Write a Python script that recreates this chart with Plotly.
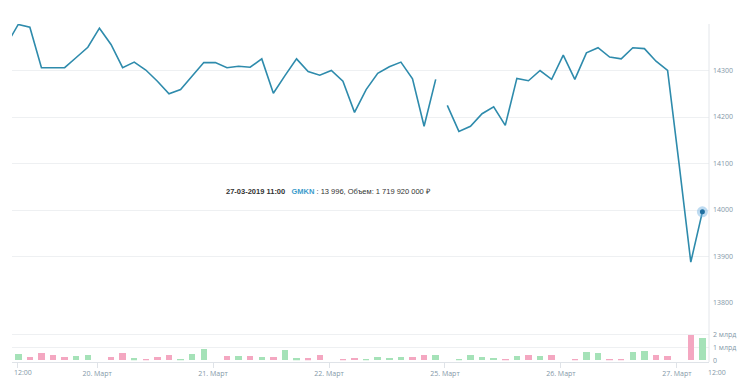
import plotly.graph_objects as go

# ---- data ----
# hourly index positions (-1 .. 59), 19–27 March 2019, GMKN
idx = list(range(-1, 60))
price = [14356, 14399, 14393, 14306, 14306, 14306, 14328, 14350, 14391, 14356,
         14306, 14318, 14301, 14277, 14250, 14259, 14288, 14317, 14317, 14306,
         14309, 14307, 14325, 14251, 14289, 14325, 14298, 14290, 14300, 14277,
         14210, 14259, 14294, 14308, 14318, 14282, 14180, 14281, 14225, 14169,
         14180, 14207, 14222, 14182, 14283, 14278, 14300, 14281, 14333, 14281,
         14338, 14349, 14329, 14325, 14349, 14347, 14320, 14300, 14097, 13888,
         13996]
gap_before = 37  # weekend break: line not joined between index 36 and 37

vol_idx = list(range(0, 60))
volume_bn = [0.48, 0.28, 0.54, 0.38, 0.28, 0.33, 0.41, None, 0.28, 0.56,
             0.15, 0.10, 0.26, 0.38, 0.10, 0.46, 0.90, None, 0.36, 0.30,
             0.30, 0.28, 0.23, 0.82, 0.15, 0.15, 0.38, None, 0.08, 0.18,
             0.12, 0.23, 0.20, 0.23, 0.28, 0.38, 0.38, None, 0.05, 0.38,
             0.23, 0.18, 0.08, 0.33, 0.41, 0.30, 0.38, None, 0.05, 0.67,
             0.56, 0.13, 0.10, 0.64, 0.74, 0.38, 0.30, None, 1.97, 1.72]
direction = list("udddduu-dd" "uddduuu-du" "duduudd-dd" "uuuuddu-uu"
                 "uududud-du" "udduudd-du")

day_ticks = [6.8, 16.8, 26.8, 36.8, 46.8, 56.8]
day_labels = ["20. Март", "21. Март", "22. Март", "25. Март", "26. Март", "27. Март"]
price_ticks = [13800, 13900, 14000, 14100, 14200, 14300, 14400]
vol_ticks = [0, 1e9, 2e9, 3e9]
vol_labels = ["0", "1 млрд", "2 млрд", ""]
hover_idx, hover_price = 59, 13996
tooltip = ("<b>27-03-2019 11:00</b>   <span style='color:#3d9ccc'><b>GMKN</b></span>"
           " : 13 996, Объем: 1 719 920 000 ₽")

# ---- geometry ----
W, H = 742, 379
L, R, T, B = 12, 33, 24, 17
LINE = "#2e8bac"

fig = go.Figure()

k = idx.index(gap_before)
fig.add_trace(go.Scatter(x=idx[:k], y=price[:k], mode="lines",
                         line=dict(color=LINE, width=1.6), yaxis="y", hoverinfo="skip"))
fig.add_trace(go.Scatter(x=idx[k:], y=price[k:], mode="lines",
                         line=dict(color=LINE, width=1.6), yaxis="y", hoverinfo="skip"))
fig.add_trace(go.Scatter(x=[hover_idx], y=[hover_price], mode="markers",
                         marker=dict(size=11, color="rgba(110,175,225,0.45)"), yaxis="y"))
fig.add_trace(go.Scatter(x=[hover_idx], y=[hover_price], mode="markers",
                         marker=dict(size=5, color="#1f6fa0"), yaxis="y"))

colors = ["#a5e2b8" if d == "u" else "#f4a7c1" for d in direction]
fig.add_trace(go.Bar(x=vol_idx, y=[v * 1e9 if v is not None else None for v in volume_bn],
                     marker=dict(color=colors, line=dict(width=0)), width=0.56,
                     yaxis="y2", hoverinfo="skip"))

plot_h = H - T - B
p_bottom = (H - B - 303) / plot_h
v_top = (H - B - 322) / plot_h

tickfont = dict(family="Open Sans", size=7, color="#8498a8")
fig.update_layout(
    width=W, height=H, margin=dict(l=L, r=R, t=T, b=B, autoexpand=False),
    paper_bgcolor="white", plot_bgcolor="white", showlegend=False,
    bargap=0,
    xaxis=dict(range=[-0.54, 59.57], tickvals=[-0.1] + day_ticks, ticktext=[""] + day_labels,
               anchor="free", position=0, automargin=False,
               showgrid=False, zeroline=False, showline=True, linecolor="#dfe3e8", linewidth=1,
               ticks="outside", ticklen=5, tickcolor="#dfe3e8", tickfont=tickfont),
    yaxis=dict(domain=[p_bottom, 1], range=[13800, 14400], side="right", automargin=False,
               tickvals=price_ticks, ticktext=[str(v) if v < 14400 else "" for v in price_ticks],
               showgrid=True, gridcolor="#eef0f2", gridwidth=1, zeroline=False,
               ticks="", ticklabelstandoff=3, tickfont=tickfont),
    yaxis2=dict(domain=[0.005, v_top], range=[0, 3e9], side="right", automargin=False,
                tickvals=vol_ticks, ticktext=vol_labels,
                showgrid=True, gridcolor="#eef0f2", zeroline=False,
                ticks="", ticklabelstandoff=3, tickfont=tickfont),
)

fig.add_shape(type="line", xref="paper", yref="paper", x0=1, x1=1, y0=0, y1=1,
              line=dict(color="#e3e6ea", width=1))


def px_x(p):
    return (p - L) / (W - L - R)


def px_y(p):
    return (H - B - p) / plot_h


for xpix, txt in [(23, "12:00"), (717, "12:00")]:
    fig.add_annotation(x=px_x(xpix), y=px_y(372), xref="paper", yref="paper", text=txt,
                       showarrow=False, font=tickfont, xanchor="center", yanchor="middle")

fig.add_annotation(x=px_x(224), y=px_y(191), xref="paper", yref="paper", text=tooltip,
                   showarrow=False, xanchor="left", yanchor="middle",
                   font=dict(family="Liberation Sans", size=7.5, color="#333333"))

fig.write_html("out.html")
